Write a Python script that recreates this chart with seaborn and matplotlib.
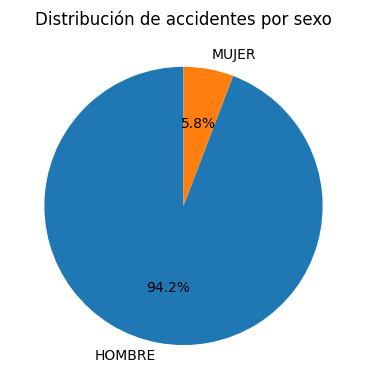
import matplotlib
matplotlib.use('Agg')
import matplotlib.pyplot as plt
import seaborn as sns

# Accidentes por sexo
sexo = ['HOMBRE', 'MUJER']
porcentaje = [94.2, 5.8]

colores = sns.color_palette('tab10', 2)

fig, ax = plt.subplots(figsize=(3.67, 3.9), dpi=100)
ax.pie(porcentaje, labels=sexo, autopct='%1.1f%%', startangle=90, colors=colores)
ax.set_title('Distribución de accidentes por sexo', pad=11.5)
ax.axis('equal')
fig.subplots_adjust(left=0.083, right=0.917, top=0.894, bottom=0.05)
fig.savefig('out.png', dpi=100)
